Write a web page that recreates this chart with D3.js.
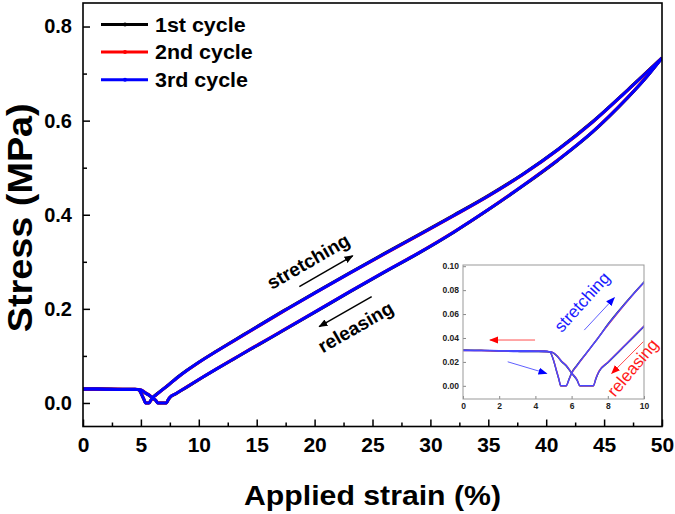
<!DOCTYPE html>
<html><head><meta charset="utf-8">
<script src="https://cdn.jsdelivr.net/npm/d3@7"></script>
<style>body{margin:0;background:#fff}text{font-family:Arial,"Liberation Sans",sans-serif}</style>
</head><body><svg id="c" width="675" height="514"></svg>
<script>
// ---------- data ----------
const cycleNames = ["1st cycle", "2nd cycle", "3rd cycle"];
const cycleColors = ["#000000", "#ff0000", "#0000ff"];

const stretchStrain = [0, 1, 2, 3, 4, 4.5, 4.8, 5.0, 5.15, 5.3, 5.4, 5.7, 5.85, 6.0, 6.3, 6.8, 7.46, 8.0, 9.0, 10, 11.5, 13, 14.4, 16, 17.3, 20, 23, 26, 29, 32, 35, 38, 41, 44, 47, 50];
const stretchStress1 = [0.0298, 0.0296, 0.0295, 0.0293, 0.0291, 0.0290, 0.0282, 0.0212, 0.0130, 0.0050, 0, 0, 0.0055, 0.0110, 0.0175, 0.0272, 0.0398, 0.0515, 0.0699, 0.0868, 0.1100, 0.1324, 0.1530, 0.1766, 0.1957, 0.2342, 0.2762, 0.3173, 0.3577, 0.3988, 0.4407, 0.4867, 0.5387, 0.5977, 0.6646, 0.7335];
const stretchStress2 = [0.0295, 0.0296, 0.0293, 0.0294, 0.0292, 0.0290, 0.0285, 0.0218, 0.0138, 0.0058, 0, 0, 0.0048, 0.0102, 0.0168, 0.0268, 0.0402, 0.0505, 0.0692, 0.0862, 0.1092, 0.1314, 0.1521, 0.1755, 0.1946, 0.2331, 0.2751, 0.3160, 0.3566, 0.3976, 0.4396, 0.4856, 0.5376, 0.5966, 0.6637, 0.7332];
const stretchStress3 = [0.0296, 0.0295, 0.0294, 0.0293, 0.0292, 0.0291, 0.0284, 0.0215, 0.0135, 0.0055, 0, 0, 0.0050, 0.0105, 0.0170, 0.0270, 0.0400, 0.0510, 0.0695, 0.0865, 0.1095, 0.1318, 0.1525, 0.1760, 0.1950, 0.2335, 0.2755, 0.3165, 0.3570, 0.3980, 0.4400, 0.4860, 0.5380, 0.5970, 0.6640, 0.7330];

const releaseStrain = [0, 1, 2, 3, 4, 4.8, 5.0, 5.2, 5.45, 5.7, 6.0, 6.3, 6.46, 7.2, 7.35, 7.51, 8.0, 9.0, 10, 11.5, 13, 14.4, 16, 17.3, 20, 23, 26, 29, 32, 35, 38, 41, 44, 47, 48.5, 50];
const releaseStress1 = [0.0298, 0.0296, 0.0293, 0.0287, 0.0286, 0.0284, 0.0272, 0.0246, 0.0200, 0.0166, 0.0104, 0.0046, 0, 0, 0.0060, 0.0116, 0.0192, 0.0342, 0.0494, 0.0715, 0.0930, 0.1130, 0.1354, 0.1539, 0.1924, 0.2354, 0.2774, 0.3184, 0.3624, 0.4104, 0.4614, 0.5154, 0.5754, 0.6476, 0.6878, 0.7335];
const releaseStress2 = [0.0296, 0.0294, 0.0291, 0.0289, 0.0288, 0.0286, 0.0277, 0.0252, 0.0207, 0.0173, 0.0110, 0.0053, 0, 0, 0.0068, 0.0123, 0.0198, 0.0348, 0.0500, 0.0723, 0.0938, 0.1139, 0.1364, 0.1549, 0.1934, 0.2364, 0.2784, 0.3194, 0.3634, 0.4114, 0.4624, 0.5164, 0.5764, 0.6484, 0.6884, 0.7332];
const releaseStress3 = [0.0297, 0.0295, 0.0292, 0.0288, 0.0287, 0.0285, 0.0275, 0.0250, 0.0204, 0.0170, 0.0107, 0.0050, 0, 0, 0.0065, 0.0120, 0.0195, 0.0345, 0.0498, 0.0720, 0.0935, 0.1135, 0.1360, 0.1545, 0.1930, 0.2360, 0.2780, 0.3190, 0.3630, 0.4110, 0.4620, 0.5160, 0.5760, 0.6480, 0.6880, 0.7330];

const xTicks = [0, 5, 10, 15, 20, 25, 30, 35, 40, 45, 50];
const xMinorTicks = [2.5, 7.5, 12.5, 17.5, 22.5, 27.5, 32.5, 37.5, 42.5, 47.5];
const yTicks = [0, 0.2, 0.4, 0.6, 0.8];
const yMinorTicks = [0.1, 0.3, 0.5, 0.7];
const insetXTicks = [0, 2, 4, 6, 8, 10];
const insetYTicks = [0, 0.02, 0.04, 0.06, 0.08, 0.10];

const stretchSets = [stretchStress1, stretchStress2, stretchStress3];
const releaseSets = [releaseStress1, releaseStress2, releaseStress3];

// ---------- layout ----------
const svg = d3.select("#c");
const L = 83, R = 662, T = 3, B = 426.5;
const x = d3.scaleLinear().domain([0, 50]).range([L, R]);
const y = d3.scaleLinear().domain([-0.05, 0.85]).range([B, T]);

svg.append("defs").append("clipPath").attr("id", "mainclip")
  .append("rect").attr("x", L).attr("y", T).attr("width", R - L).attr("height", B - T);

function styleAxis(g, size) {
  g.select(".domain").remove();
  g.selectAll("line").attr("stroke", "#000").attr("stroke-width", 1.5);
  g.selectAll("text").attr("font-weight", "bold").attr("font-size", size).attr("fill", "#000")
    .style("font-family", "Arial, 'Liberation Sans', sans-serif");
}
svg.append("g").attr("transform", `translate(0,${B})`)
  .call(d3.axisBottom(x).tickValues(xTicks).tickSizeInner(-7).tickSizeOuter(0).tickPadding(11).tickFormat(d3.format("d")))
  .call(g => styleAxis(g, 21));
svg.append("g").attr("transform", `translate(0,${B})`)
  .call(d3.axisBottom(x).tickValues(xMinorTicks).tickSizeInner(-4).tickSizeOuter(0).tickFormat(""))
  .call(g => styleAxis(g, 21));
svg.append("g").attr("transform", `translate(${L},0)`)
  .call(d3.axisLeft(y).tickValues(yTicks).tickSizeInner(-7).tickSizeOuter(0).tickPadding(11).tickFormat(d3.format(".1f")))
  .call(g => styleAxis(g, 20));
svg.append("g").attr("transform", `translate(${L},0)`)
  .call(d3.axisLeft(y).tickValues(yMinorTicks).tickSizeInner(-4).tickSizeOuter(0).tickFormat(""))
  .call(g => styleAxis(g, 20));

// curves
const lineMain = d3.line().x(d => x(d[0])).y(d => y(d[1])).curve(d3.curveMonotoneX);
const curves = svg.append("g").attr("clip-path", "url(#mainclip)");
[0, 1, 2].forEach(i => {
  const s = stretchStrain.map((v, k) => [v, stretchSets[i][k]]);
  const r = releaseStrain.map((v, k) => [v, releaseSets[i][k]]);
  [s, r].forEach(pts => {
    curves.append("path").attr("d", lineMain(pts)).attr("fill", "none")
      .attr("stroke", cycleColors[i]).attr("stroke-width", 3).attr("stroke-linejoin", "round");
  });
});

// frame
svg.append("rect").attr("x", L).attr("y", T).attr("width", R - L).attr("height", B - T)
  .attr("fill", "none").attr("stroke", "#000").attr("stroke-width", 1.6);

// axis titles
svg.append("text").attr("transform", `translate(${(L + R) / 2},505) scale(1.12,1)`)
  .attr("text-anchor", "middle").attr("font-weight", "bold").attr("font-size", 27).text("Applied strain (%)");
svg.append("text").attr("transform", `translate(32,${(T + B) / 2 + 3}) rotate(-90) scale(1.08,1)`)
  .attr("text-anchor", "middle").attr("font-weight", "bold").attr("font-size", 35).text("Stress (MPa)");

// legend
const legend = svg.append("g");
cycleNames.forEach((n, i) => {
  const yy = 24.5 + i * 27.6;
  legend.append("line").attr("x1", 101).attr("x2", 148).attr("y1", yy).attr("y2", yy)
    .attr("stroke", cycleColors[i]).attr("stroke-width", 3);
  legend.append("circle").attr("cx", 125).attr("cy", yy).attr("r", 2).attr("fill", cycleColors[i]);
  legend.append("text").attr("transform", `translate(155,${yy + 7}) scale(1.1,1)`)
    .attr("font-weight", "bold").attr("font-size", 19.5).text(n);
});

// arrow markers
const defs = svg.select("defs");
function marker(id, color, size) {
  defs.append("marker").attr("id", id).attr("viewBox", "0 0 10 10").attr("refX", 9).attr("refY", 5)
    .attr("markerWidth", size).attr("markerHeight", size).attr("markerUnits", "userSpaceOnUse").attr("orient", "auto")
    .append("path").attr("d", "M0,1 L10,5 L0,9 Z").attr("fill", color);
}
marker("ab", "#000", 9); marker("ar", "#ff0000", 9); marker("abl", "#0000ff", 9);

function arrow(sx, sy, x1, y1, x2, y2, color, m, w) {
  svg.append("line").attr("x1", sx(x1)).attr("y1", sy(y1)).attr("x2", sx(x2)).attr("y2", sy(y2))
    .attr("stroke", color).attr("stroke-width", w).attr("marker-end", `url(#${m})`);
}
arrow(x, y, 18.68, 0.2474, 23.29, 0.3128, "#000", "ab", 1.5);
arrow(x, y, 24.93, 0.2262, 20.40, 0.1623, "#000", "ab", 1.5);
svg.append("text").attr("transform", `translate(${x(16.3)},${y(0.2400)}) rotate(-30)`)
  .attr("font-weight", "bold").attr("font-size", 19).text("stretching");
svg.append("text").attr("transform", `translate(${x(20.7)},${y(0.1050)}) rotate(-30)`)
  .attr("font-weight", "bold").attr("font-size", 19).text("releasing");

// ---------- inset ----------
const iL = 463, iR = 644, iT = 265, iB = 399;
const ix = d3.scaleLinear().domain([0, 10]).range([iL, iR]);
const iy = d3.scaleLinear().domain([-0.011, 0.101]).range([iB, iT]);
defs.append("clipPath").attr("id", "insetclip")
  .append("rect").attr("x", iL).attr("y", iT).attr("width", iR - iL).attr("height", iB - iT);
const inset = svg.append("g");
inset.append("rect").attr("x", iL).attr("y", iT).attr("width", iR - iL).attr("height", iB - iT).attr("fill", "#fff");

function styleInset(g) {
  g.select(".domain").remove();
  g.selectAll("line").attr("stroke", "#888").attr("stroke-width", 1);
  g.selectAll("text").attr("font-weight", "bold").attr("font-size", 8.5).attr("fill", "#222");
}
inset.append("g").attr("transform", `translate(0,${iB})`)
  .call(d3.axisBottom(ix).tickValues(insetXTicks).tickSizeInner(-3).tickSizeOuter(0).tickPadding(4).tickFormat(d3.format("d")))
  .call(styleInset);
inset.append("g").attr("transform", `translate(${iL},0)`)
  .call(d3.axisLeft(iy).tickValues(insetYTicks).tickSizeInner(-3).tickSizeOuter(0).tickPadding(4).tickFormat(d3.format(".2f")))
  .call(styleInset);

const lineIn = d3.line().x(d => ix(d[0])).y(d => iy(d[1])).curve(d3.curveMonotoneX);
const icurves = inset.append("g").attr("clip-path", "url(#insetclip)");
const insetColors = ["#333333", "#ff3030", "#4848ff"];
const insetWidths = [1.2, 1.2, 1.5];
[0, 1, 2].forEach(i => {
  const s = stretchStrain.filter(v => v <= 11.5).map((v, k) => [v, stretchSets[i][k]]);
  const r = releaseStrain.filter(v => v <= 11.5).map((v, k) => [v, releaseSets[i][k]]);
  [s, r].forEach(pts => {
    icurves.append("path").attr("d", lineIn(pts)).attr("fill", "none")
      .attr("stroke", insetColors[i]).attr("stroke-width", insetWidths[i]);
  });
});
inset.append("rect").attr("x", iL).attr("y", iT).attr("width", iR - iL).attr("height", iB - iT)
  .attr("fill", "none").attr("stroke", "#999").attr("stroke-width", 1);

arrow(ix, iy, 3.98, 0.0383, 1.49, 0.0383, "#ff5050", "ar", 1);
arrow(ix, iy, 2.47, 0.0201, 4.62, 0.0104, "#6060ff", "abl", 1);
arrow(ix, iy, 6.70, 0.0466, 8.36, 0.0736, "#6060ff", "abl", 1);
arrow(ix, iy, 9.96, 0.0369, 8.22, 0.0104, "#ff5050", "ar", 1);
svg.append("text").attr("transform", `translate(${ix(5.45)},${iy(0.0440)}) rotate(-48)`)
  .attr("font-size", 17).attr("fill", "#1a1aff").text("stretching");
svg.append("text").attr("transform", `translate(${ix(8.40)},${iy(-0.0100)}) rotate(-50)`)
  .attr("font-size", 17).attr("fill", "#ff1a1a").text("releasing");
</script></body></html>
